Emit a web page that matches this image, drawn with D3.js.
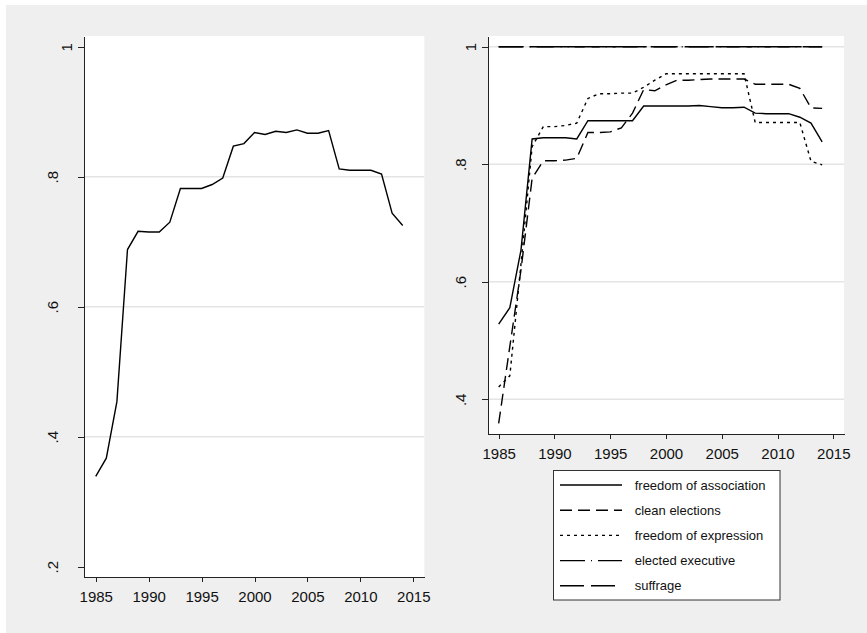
<!DOCTYPE html>
<html>
<head>
<meta charset="utf-8">
<script src="https://cdn.jsdelivr.net/npm/d3@7"></script>
<style>
  body { margin: 0; background: #fff; }
  svg { display: block; font-family: "Liberation Sans", Arial, sans-serif; }
  .axis path, .axis line { stroke: #222; shape-rendering: crispEdges; }
  .axis text { fill: #111; font-size: 15px; }
  .grid { stroke: #e4e4e4; stroke-width: 1.5; }
</style>
</head>
<body>
<div id="chart"></div>
<script>
// Years on the x axis.
var years = [1985, 1986, 1987, 1988, 1989, 1990, 1991, 1992, 1993, 1994,
             1995, 1996, 1997, 1998, 1999, 2000, 2001, 2002, 2003, 2004,
             2005, 2006, 2007, 2008, 2009, 2010, 2011, 2012, 2013, 2014];

// Left panel: the overall index.
var overallIndex = [0.339, 0.367, 0.454, 0.688, 0.716, 0.715, 0.715, 0.730, 0.782, 0.782,
                    0.782, 0.788, 0.798, 0.847, 0.851, 0.868, 0.865, 0.870, 0.868, 0.872,
                    0.867, 0.867, 0.871, 0.812, 0.810, 0.810, 0.810, 0.804, 0.744, 0.725];

// Right panel: the components.
var association = [0.528, 0.556, 0.654, 0.843, 0.845, 0.845, 0.845, 0.843, 0.874, 0.874,
                   0.874, 0.874, 0.874, 0.899, 0.899, 0.899, 0.899, 0.899, 0.900, 0.898,
                   0.896, 0.896, 0.897, 0.887, 0.886, 0.886, 0.886, 0.880, 0.870, 0.838];
var cleanElections = [0.359, 0.490, 0.620, 0.776, 0.806, 0.806, 0.807, 0.810, 0.854, 0.854,
                      0.855, 0.862, 0.887, 0.927, 0.925, 0.935, 0.943, 0.943, 0.944, 0.945,
                      0.945, 0.945, 0.945, 0.936, 0.936, 0.936, 0.936, 0.929, 0.896, 0.895];
var expression = [0.421, 0.440, 0.630, 0.830, 0.864, 0.864, 0.866, 0.870, 0.912, 0.920,
                  0.920, 0.921, 0.921, 0.931, 0.943, 0.954, 0.954, 0.954, 0.954, 0.954,
                  0.954, 0.954, 0.954, 0.871, 0.871, 0.871, 0.871, 0.871, 0.805, 0.799];
var electedExecutive = [1, 1, 1, 1, 1, 1, 1, 1, 1, 1,
                        1, 1, 1, 1, 1, 1, 1, 1, 1, 1,
                        1, 1, 1, 1, 1, 1, 1, 1, 1, 1];
var suffrage = [1, 1, 1, 1, 1, 1, 1, 1, 1, 1,
                1, 1, 1, 1, 1, 1, 1, 1, 1, 1,
                1, 1, 1, 1, 1, 1, 1, 1, 1, 1];

var seriesNames = ["freedom of association", "clean elections", "freedom of expression",
                   "elected executive", "suffrage"];
var seriesValues = [association, cleanElections, expression, electedExecutive, suffrage];
var seriesDash = [null, "12,6", "3,4", "25,6,1,6", "24,7"];

// Tick labels.
var xTicks = [1985, 1990, 1995, 2000, 2005, 2010, 2015];
var yTicksLeft = [0.2, 0.4, 0.6, 0.8, 1];
var yTicksRight = [0.4, 0.6, 0.8, 1];
var gridLeft = [0.4, 0.6, 0.8];
var gridRight = [0.4, 0.6, 0.8, 1];

var width = 867;
var height = 633;

var svg = d3.select("#chart")
  .append("svg")
    .attr("width", width)
    .attr("height", height);

// Gray graph region.
svg.append("rect")
  .attr("x", 6)
  .attr("y", 5)
  .attr("width", width - 6)
  .attr("height", height - 5)
  .attr("fill", "#efefef");

function fmtY(d) {
  return d === 1 ? "1" : String(d).replace(/^0/, "");
}

function drawPanel(box, xDomain, yDomain, yTicks, grid, labelOffset) {
  var x = d3.scaleLinear().domain(xDomain).range([box.x0, box.x1]);
  var y = d3.scaleLinear().domain(yDomain).range([box.y1, box.y0]);

  svg.append("rect")
    .attr("x", box.x0)
    .attr("y", box.y0)
    .attr("width", box.x1 - box.x0)
    .attr("height", box.y1 - box.y0)
    .attr("fill", "#fff");

  svg.append("g")
    .selectAll("line")
    .data(grid)
    .enter()
    .append("line")
      .attr("class", "grid")
      .attr("x1", box.x0)
      .attr("x2", box.x1)
      .attr("y1", function (d) { return y(d); })
      .attr("y2", function (d) { return y(d); });

  var xAxis = svg.append("g")
    .attr("class", "axis")
    .attr("transform", "translate(0," + box.y1 + ")")
    .call(d3.axisBottom(x).tickValues(xTicks).tickSize(5).tickSizeOuter(0).tickFormat(d3.format("d")));
  xAxis.selectAll("text")
    .attr("y", 25)
    .attr("dy", 0);

  var yAxis = svg.append("g")
    .attr("class", "axis")
    .attr("transform", "translate(" + box.x0 + ",0)")
    .call(d3.axisLeft(y).tickValues(yTicks).tickSize(6).tickSizeOuter(0).tickFormat(fmtY));
  // Stata style vertical labels
  yAxis.selectAll("text")
    .attr("x", 0)
    .attr("dy", 0)
    .attr("text-anchor", "middle")
    .attr("transform", function (d) {
      return "translate(" + (d === 1 ? -12 : labelOffset) + ",0) rotate(-90)";
    });

  return { x: x, y: y };
}

function drawLine(scales, values, dash) {
  var line = d3.line()
    .x(function (d, i) { return scales.x(years[i]); })
    .y(function (d) { return scales.y(d); });

  svg.append("path")
    .datum(values)
    .attr("d", line)
    .attr("fill", "none")
    .attr("stroke", "#000")
    .attr("stroke-width", 1.4)
    .attr("stroke-dasharray", dash);
}

var left = drawPanel({ x0: 84.3, x1: 424.3, y0: 36, y1: 577 },
  [1983.92, 2016.04], [0.1842, 1.0165], yTicksLeft, gridLeft, -26);
drawLine(left, overallIndex, null);

var right = drawPanel({ x0: 488.3, x1: 844, y0: 36, y1: 434.3 },
  [1984.07, 2015.96], [0.3405, 1.0182], yTicksRight, gridRight, -22);
for (var i = 0; i < seriesValues.length; i++) {
  drawLine(right, seriesValues[i], seriesDash[i]);
}

// Legend below the right panel.
var legend = svg.append("g").attr("class", "legend");

legend.append("rect")
  .attr("x", 553.5)
  .attr("y", 470.5)
  .attr("width", 226.5)
  .attr("height", 129.5)
  .attr("fill", "#fff")
  .attr("stroke", "#333");

var rows = legend.selectAll("g.row")
  .data(seriesNames)
  .enter()
  .append("g")
    .attr("class", "row")
    .attr("transform", function (d, i) { return "translate(0," + (485 + i * 25.2) + ")"; });

rows.append("line")
  .attr("x1", 560)
  .attr("x2", 622)
  .attr("stroke", "#000")
  .attr("stroke-width", 1.4)
  .attr("stroke-dasharray", function (d, i) { return seriesDash[i]; });

rows.append("text")
  .attr("x", 634.7)
  .attr("dy", "0.35em")
  .attr("font-size", 13)
  .attr("fill", "#111")
  .text(function (d) { return d; });
</script>
</body>
</html>
